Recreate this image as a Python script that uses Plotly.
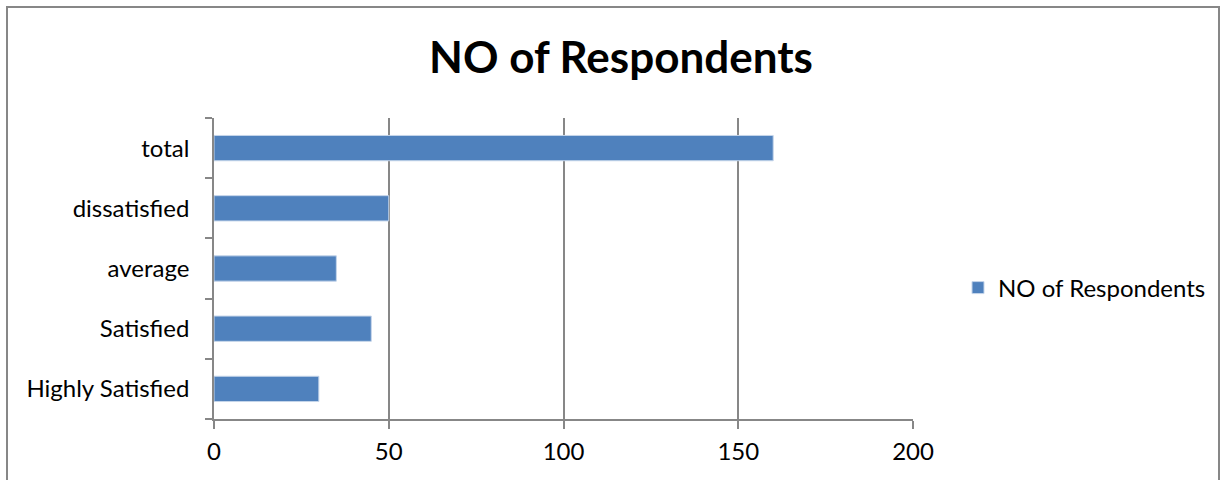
import plotly.graph_objects as go

categories = ["Highly Satisfied", "Satisfied", "average", "dissatisfied", "total"]
values = [30, 45, 35, 50, 160]
x_ticks = [0, 50, 100, 150, 200]
series_name = "NO of Respondents"
title_text = "NO of Respondents"

W, H = 1221, 480
L, R, T, B = 214, 308, 118, 61
pw, ph = W - L - R, H - T - B

def px_x(p):
    return (p - L) / pw

def px_y(p):
    return (H - B - p) / ph

FONT = "Lato"
FS = 24
fig = go.Figure()
fig.add_trace(go.Bar(
    y=categories, x=values, orientation="h", name=series_name,
    marker=dict(color="#4F81BD", line=dict(color="#C5D5EA", width=1)),
    showlegend=True,
))

fig.update_layout(
    width=W, height=H,
    margin=dict(l=L, r=R, t=T, b=B, autoexpand=False),
    paper_bgcolor="white", plot_bgcolor="white",
    bargap=0.58,
    title=dict(text="<b>" + title_text + "</b>", x=(621) / W, xanchor="center",
               y=1 - 58 / H, yanchor="middle",
               font=dict(family=FONT, size=44, color="black")),
    font=dict(family=FONT, size=FS, color="black"),
    showlegend=True,
    legend=dict(x=px_x(958), xanchor="left", y=px_y(288), yanchor="middle",
                font=dict(family=FONT, size=FS, color="black"),
                bgcolor="rgba(0,0,0,0)", itemwidth=30),
    xaxis=dict(range=[0, 200], tickvals=x_ticks, showgrid=True, gridcolor="#878787",
               gridwidth=1.5, showline=True, linecolor="#878787", linewidth=1.5,
               ticks="outside", ticklen=8, tickcolor="#878787", tickwidth=1.5,
               zeroline=False, tickfont=dict(size=FS), ticklabelstandoff=2),
    yaxis=dict(categoryorder="array", categoryarray=categories, showline=True,
               linecolor="#878787", linewidth=1.5, ticks="outside", tickson="boundaries",
               ticklen=7, tickcolor="#878787", tickwidth=1.5, showgrid=False,
               tickfont=dict(size=FS), ticklabelstandoff=18),
    shapes=[dict(type="rect", xref="paper", yref="paper",
                 x0=px_x(7), x1=px_x(1219), y0=px_y(500), y1=px_y(7),
                 line=dict(color="#878787", width=2), fillcolor="rgba(0,0,0,0)",
                 layer="below")],
)

fig.write_html("out.html")
